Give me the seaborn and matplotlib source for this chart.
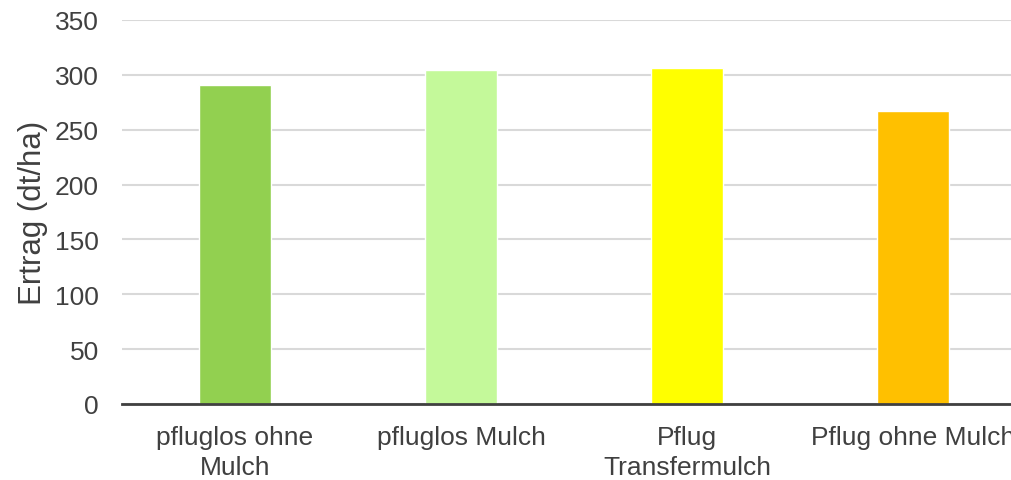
import matplotlib
matplotlib.use("Agg")
import matplotlib.pyplot as plt
import seaborn as sns
import pandas as pd

# Yield per tillage variant
categories = ["pfluglos ohne\nMulch", "pfluglos Mulch", "Pflug\nTransfermulch", "Pflug ohne Mulch"]
values = [291, 304, 306, 267]
colors = ["#92D050", "#C4F99A", "#FFFF00", "#FFC000"]
y_ticks = [0, 50, 100, 150, 200, 250, 300, 350]

sns.set_theme(style="white")
plt.rcParams["font.family"] = ["Liberation Sans", "DejaVu Sans"]

text_color = "#404040"
df = pd.DataFrame({"Variante": categories, "Ertrag": values})

fig = plt.figure(figsize=(10.12, 4.81), dpi=100)
# axes deliberately reaches past the right figure edge
ax = fig.add_axes([122 / 1012, 1 - 405 / 481, 904 / 1012, 384 / 481])

sns.barplot(data=df, x="Variante", y="Ertrag", hue="Variante",
            palette=colors, width=0.315, legend=False, ax=ax,
            saturation=1, zorder=3)

ax.set_ylim(0, 350)
ax.set_xlim(-0.5, 3.5)
ax.set_yticks(y_ticks)
ax.yaxis.grid(True, color="#D9D9D9", linewidth=1.5, zorder=0)
ax.xaxis.grid(False)
for side in ["top", "right", "left"]:
    ax.spines[side].set_visible(False)
ax.spines["bottom"].set_color(text_color)
ax.spines["bottom"].set_linewidth(2)
ax.spines["bottom"].set_zorder(4)

ax.tick_params(axis="y", length=0, pad=16.5, labelsize=19, labelcolor=text_color)
ax.tick_params(axis="x", length=0, pad=15, labelsize=19, labelcolor=text_color)
for lbl in ax.get_xticklabels():
    lbl.set_linespacing(1.35)

ax.set_xlabel("")
ax.set_ylabel("Ertrag (dt/ha)", fontsize=22.5, color=text_color, labelpad=5)

fig.savefig("out.png", dpi=100, facecolor="white")
